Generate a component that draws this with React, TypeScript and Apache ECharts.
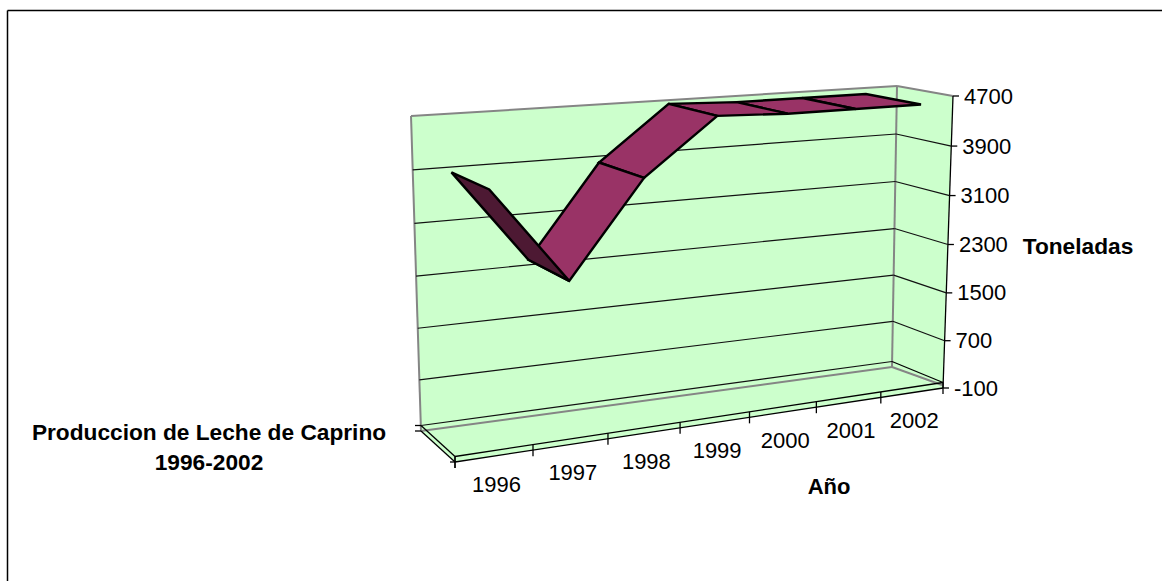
import React, { useEffect, useRef } from "react";
import * as echarts from "echarts";

const years = ["1996", "1997", "1998", "1999", "2000", "2001", "2002"];
const toneladas = [3820, 2380, 3800, 4640, 4600, 4600, 4600];
const valueTicks = [-100, 700, 1500, 2300, 3100, 3900, 4700];
const titleLines = "Produccion de Leche de Caprino\n1996-2002";
const valueAxisName = "Toneladas";
const yearAxisName = "Año";

type P = [number, number];
// Corners of the box's back and front planes: bottom-left, bottom-right, top-right, top-left
const BACK: P[] = [[421, 431], [892, 367], [897, 86], [411, 116]];
const FRONT: P[] = [[455, 462], [943, 388], [953, 96], [447, 130]];
const FLOOR_RAISE = 5.5;
const FONT = '"Liberation Sans", Arial, sans-serif';

function homography(q: P[]) {
  const [p0, p1, p2, p3] = q;
  const dx1 = p1[0] - p2[0], dx2 = p3[0] - p2[0], sx = p0[0] - p1[0] + p2[0] - p3[0];
  const dy1 = p1[1] - p2[1], dy2 = p3[1] - p2[1], sy = p0[1] - p1[1] + p2[1] - p3[1];
  const det = dx1 * dy2 - dx2 * dy1;
  const g = (sx * dy2 - dx2 * sy) / det;
  const h = (dx1 * sy - sx * dy1) / det;
  const a = p1[0] - p0[0] + g * p1[0], b = p3[0] - p0[0] + h * p3[0], c = p0[0];
  const d = p1[1] - p0[1] + g * p1[1], e = p3[1] - p0[1] + h * p3[1], f = p0[1];
  return (u: number, v: number): P => {
    const w = g * u + h * v + 1;
    return [(a * u + b * v + c) / w, (d * u + e * v + f) / w];
  };
}
const backAt = homography(BACK);
const frontAt = homography(FRONT);

// grid pixel -> position on the back or front plane of the box
function place(api: any, params: any, x: number, y: number, plane: "back" | "front"): P {
  const c = api.coord([x, y]);
  const cs = params.coordSys;
  const u = (c[0] - cs.x) / cs.width;
  const v = (cs.y + cs.height - c[1]) / cs.height;
  return plane === "back" ? backAt(u, v) : frontAt(u, v);
}
const up = (p: P, d: number): P => [p[0], p[1] - d];
const line = (a: P, b: P, stroke: string, lineWidth: number, z2 = 1) => ({
  type: "line",
  z2,
  shape: { x1: a[0], y1: a[1], x2: b[0], y2: b[1] },
  style: { stroke, lineWidth, fill: null },
});
const poly = (points: P[], fill: string, stroke: string | null, lineWidth: number, z2 = 0) => ({
  type: "polygon",
  z2,
  shape: { points },
  style: { fill, stroke, lineWidth, lineJoin: "miter", miterLimit: 3 },
});

const GREEN = "#ccffcc";
const GRAY = "#858585";
const XMAX = years.length;
const YMIN = valueTicks[0];
const YMAX = valueTicks[valueTicks.length - 1];

const renderBox = (params: any, api: any) => {
  const at = (x: number, y: number, pl: "back" | "front") => place(api, params, x, y, pl);
  const bl = at(0, YMIN, "back"), br = at(XMAX, YMIN, "back");
  const tl = at(0, YMAX, "back"), tr = at(XMAX, YMAX, "back");
  const fbl = at(0, YMIN, "front"), fbr = at(XMAX, YMIN, "front"), ftr = at(XMAX, YMAX, "front");
  const r = FLOOR_RAISE;
  return {
    type: "group",
    children: [
      poly([bl, br, tr, tl], GREEN, null, 0),
      poly([br, fbr, ftr, tr], GREEN, null, 0),
      poly([bl, br, fbr, fbl], GREEN, null, 0),
      line(tl, tr, GRAY, 2, 1),
      line(tl, bl, GRAY, 2, 1),
      line(tr, br, GRAY, 2, 1),
      line(tr, ftr, GRAY, 2, 1),
      line(bl, br, GRAY, 2, 1),
      line(br, [fbr[0] - 1, fbr[1] - 3], GRAY, 2, 1),
      line(ftr, fbr, "#000", 1.3, 3),
      line(fbl, fbr, "#000", 1.3, 3),
      line(up(fbl, r), up(fbr, r), "#000", 1.3, 3),
      line(bl, fbl, "#000", 1.3, 3),
      line(up(bl, r), up(fbl, r), "#000", 1.3, 3),
      line(up(br, r), up(fbr, r), "#000", 1.3, 3),
      line([bl[0] - 6, bl[1]], bl, "#000", 1.3, 3),
      line([bl[0] - 6, bl[1] - r], up(bl, r), "#000", 1.3, 3),
      line([fbl[0] - 5, fbl[1]], fbl, "#000", 1.3, 3),
      line(up(fbl, r), [fbl[0], fbl[1] + 6], "#000", 1.3, 3),
      line(up(fbr, r), [fbr[0], fbr[1] + 6], "#000", 1.3, 3),
    ],
  };
};

const renderValueTick = (params: any, api: any) => {
  const v = api.value(0);
  const a = place(api, params, 0, v, "back");
  const b = place(api, params, XMAX, v, "back");
  const c = place(api, params, XMAX, v, "front");
  const floor = v === YMIN ? FLOOR_RAISE : 0;
  const children: any[] = [
    line(c, [c[0] + 6, c[1]], "#000", 1.3, 3),
    {
      type: "text",
      z2: 4,
      x: c[0] + 11,
      y: c[1],
      style: {
        text: String(v),
        font: `22px ${FONT}`,
        fill: "#000",
        textAlign: "left",
        textVerticalAlign: "middle",
      },
    },
  ];
  if (v !== YMAX) children.push(line(up(a, floor), up(b, floor), "#111", 1.2, 2));
  if (v !== YMAX && v !== YMIN) children.push(line(b, c, "#111", 1.2, 2));
  return { type: "group", children };
};

const renderYear = (params: any, api: any) => {
  const i = api.value(0);
  const tick = place(api, params, i, YMIN, "front");
  const mid = place(api, params, i + 0.5, YMIN, "front");
  return {
    type: "group",
    children: [
      line(up(tick, FLOOR_RAISE), [tick[0], tick[1] + 6], "#000", 1.3, 3),
      {
        type: "text",
        z2: 4,
        x: mid[0] + 2,
        y: mid[1] + 28,
        style: {
          text: years[i],
          font: `22px ${FONT}`,
          fill: "#000",
          textAlign: "center",
          textVerticalAlign: "middle",
        },
      },
    ],
  };
};

const renderRibbon = (params: any, api: any) => {
  const x0 = api.value(0), y0 = api.value(1), x1 = api.value(2), y1 = api.value(3);
  const pts: P[] = [
    place(api, params, x0, y0, "back"),
    place(api, params, x0, y0, "front"),
    place(api, params, x1, y1, "front"),
    place(api, params, x1, y1, "back"),
  ];
  let area = 0;
  pts.forEach((p, k) => {
    const q = pts[(k + 1) % 4];
    area += p[0] * q[1] - q[0] * p[1];
  });
  const fill = area > 0 ? "#4d1933" : "#993366";
  return poly(pts, fill, "#000", 2.4, 20 - params.dataIndex);
};

const ribbonRows = toneladas.slice(0, -1).map((v, i) => [i + 0.5, v, i + 1.5, toneladas[i + 1]]);

export default function App() {
  const ref = useRef<HTMLDivElement>(null);
  useEffect(() => {
    document.body.style.margin = "0";
    const chart = echarts.init(ref.current!, null, { renderer: "svg" });
    chart.setOption({
      animation: false,
      backgroundColor: "#fff",
      grid: { left: 100, right: 100, top: 100, bottom: 100 },
      xAxis: { type: "value", min: 0, max: XMAX, show: false },
      yAxis: { type: "value", min: YMIN, max: YMAX, interval: 800, show: false },
      graphic: [
        { type: "line", shape: { x1: 7.5, y1: 10.5, x2: 1162, y2: 10.5 }, style: { stroke: "#000", lineWidth: 1.5 } },
        { type: "line", shape: { x1: 7.5, y1: 10.5, x2: 7.5, y2: 581 }, style: { stroke: "#000", lineWidth: 1.5 } },
        {
          type: "text",
          x: 209,
          y: 446.5,
          style: {
            text: titleLines,
            font: `bold 22.7px ${FONT}`,
            fill: "#000",
            textAlign: "center",
            textVerticalAlign: "middle",
            lineHeight: 30,
          },
        },
        {
          type: "text",
          x: 1078,
          y: 246,
          style: { text: valueAxisName, font: `bold 22.7px ${FONT}`, fill: "#000", textAlign: "center", textVerticalAlign: "middle" },
        },
        {
          type: "text",
          x: 829,
          y: 486,
          style: { text: yearAxisName, font: `bold 22px ${FONT}`, fill: "#000", textAlign: "center", textVerticalAlign: "middle" },
        },
      ],
      series: [
        { type: "custom", z: 1, silent: true, clip: false, data: [[0]], renderItem: renderBox },
        { type: "custom", z: 2, silent: true, clip: false, data: valueTicks.map((v) => [v]), encode: { y: 0 }, renderItem: renderValueTick },
        { type: "custom", z: 2, silent: true, clip: false, data: years.map((_, i) => [i]), encode: { x: 0 }, renderItem: renderYear },
        { type: "custom", name: "Toneladas", z: 5, silent: true, clip: false, data: ribbonRows, encode: { x: [0, 2], y: [1, 3] }, renderItem: renderRibbon },
      ],
    });
    return () => chart.dispose();
  }, []);
  return <div ref={ref} style={{ position: "absolute", left: 0, top: 0, width: 1162, height: 581 }} />;
}
